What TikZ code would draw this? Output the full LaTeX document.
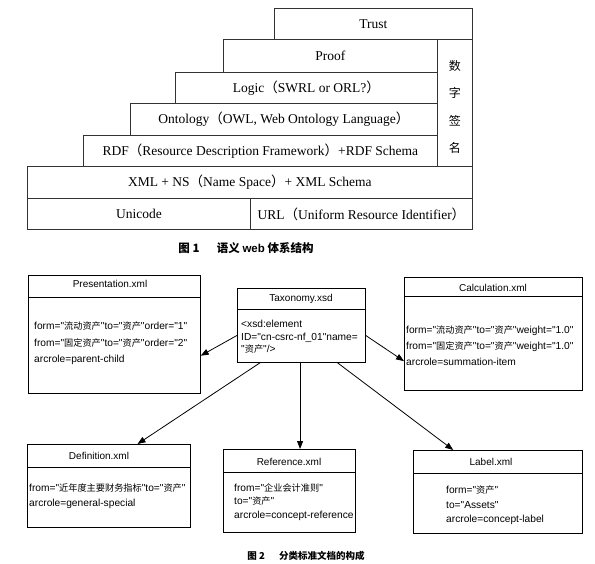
\documentclass[tikz,border=0pt]{standalone}
\usepackage{fontspec}
\setmainfont{Liberation Serif}
\newfontfamily\arial{Liberation Sans}
\newfontfamily\cjk{Noto Sans CJK SC}
\newfontfamily\cjks[Scale=0.9]{Noto Sans CJK SC}
\newcommand\zh[1]{{\cjks #1}}
\newcommand\fp[1]{{\cjk #1}}
\usetikzlibrary{arrows.meta,calc}
\begin{document}
\begin{tikzpicture}[x=1pt,y=-1pt,
  layer/.style={draw=black!80, line width=0.8pt, anchor=north west, inner sep=0pt,
    font=\fontsize{13.5}{16}\selectfont},
  box/.style={draw=black, line width=0.7pt, anchor=north west, inner sep=0pt},
  hdr/.style={font=\arial\fontsize{10}{12}\selectfont, inner sep=0pt},
  body/.style={font=\arial\fontsize{10.2}{12}\selectfont, anchor=base west, inner sep=0pt},
  captxt/.style={inner sep=0pt},
  arr/.style={-{Triangle[length=8pt,width=6pt]}, line width=0.8pt}]
\useasboundingbox[fill=white] (0,0) rectangle (595,563);

% ---------- Figure 1 ----------
\node[layer, minimum width=198pt, minimum height=31pt] (trust) at (274,8) {Trust};
\node[layer, minimum width=214pt, minimum height=33pt] (proof) at (223,39) {Proof};
\node[layer, minimum width=262pt, minimum height=31pt] (logic) at (175,72) {Logic\fp{（}SWRL or ORL?\fp{）}};
\node[layer, minimum width=307pt, minimum height=32pt] (onto) at (130,103) {Ontology\fp{（}OWL, Web Ontology Language\fp{）}};
\node[layer, minimum width=354pt, minimum height=31pt] (rdf) at (83,135) {RDF\fp{（}Resource Description Framework\fp{）}+RDF Schema};
\node[layer, minimum width=35pt, minimum height=127pt] (sig) at (437,39) {};
\node[font=\cjk\fontsize{12}{27.5}\selectfont, align=center, inner sep=0pt] (sigt) at ($(sig.center)+(0,4)$) {数\\字\\签\\名};
\node[layer, minimum width=445pt, minimum height=32pt] (xml) at (27,166) {XML + NS\fp{（}Name Space\fp{）}+ XML Schema};
\node[layer, minimum width=223pt, minimum height=31pt] (uni) at (27,198) {Unicode};
\node[layer, minimum width=222pt, minimum height=31pt] (url) at (250,198) {URL\fp{（}Uniform Resource Identifier\fp{）}};
\node[captxt, font=\cjk\bfseries\fontsize{11.5}{13}\selectfont] (cap1) at (246,248) {图 1\hspace{1.5em}语义 {\arial\bfseries web} 体系结构};

% ---------- Figure 2 ----------
% Presentation
\node[box, minimum width=172pt, minimum height=118pt] (pres) at (28,275) {};
\draw[line width=0.7pt] (pres.west |- 0,297) -- (pres.east |- 0,297);
\node[hdr] (presh) at (110,284) {Presentation.xml};
\node[body] (pres1) at (34,329) {form="\zh{流动资产}"to="\zh{资产}"order="1"};
\node[body] (pres2) at (34,346) {from="\zh{固定资产}"to="\zh{资产}"order="2"};
\node[body] (pres3) at (34,362) {arcrole=parent-child};

% Taxonomy
\node[box, minimum width=128pt, minimum height=74pt] (tax) at (237,288) {};
\draw[line width=0.7pt] (tax.west |- 0,309) -- (tax.east |- 0,309);
\node[hdr] (taxh) at (301,299) {Taxonomy.xsd};
\node[body] (tax1) at (241,327) {<xsd:element};
\node[body] (tax2) at (241,340) {ID="cn-csrc-nf\_01"name=};
\node[body] (tax3) at (241,352) {"\zh{资产}"/>};

% Calculation
\node[box, minimum width=178pt, minimum height=113pt] (calc) at (404,277) {};
\draw[line width=0.7pt] (calc.west |- 0,296) -- (calc.east |- 0,296);
\node[hdr] (calch) at (493,288) {Calculation.xml};
\node[body] (calc1) at (406,333) {form="\zh{流动资产}"to="\zh{资产}"weight="1.0"};
\node[body] (calc2) at (406,349) {from="\zh{固定资产}"to="\zh{资产}"weight="1.0"};
\node[body] (calc3) at (406,365) {arcrole=summation-item};

% Definition
\node[box, minimum width=163pt, minimum height=83pt] (def) at (27,444) {};
\draw[line width=0.7pt] (def.west |- 0,467) -- (def.east |- 0,467);
\node[hdr] (defh) at (99,456) {Definition.xml};
\node[body] (def1) at (29,491) {from="\zh{近年度主要财务指标}"to="\zh{资产}"};
\node[body] (def2) at (29,506) {arcrole=general-special};

% Reference
\node[box, minimum width=132pt, minimum height=83pt] (ref) at (223,449) {};
\draw[line width=0.7pt] (ref.west |- 0,472) -- (ref.east |- 0,472);
\node[hdr] (refh) at (289,462) {Reference.xml};
\node[body] (ref1) at (234,491) {from="\zh{企业会计准则}"};
\node[body] (ref2) at (234,504) {to="\zh{资产}"};
\node[body] (ref3) at (234,518) {arcrole=concept-reference};

% Label
\node[box, minimum width=169pt, minimum height=83pt] (lab) at (413,450) {};
\draw[line width=0.7pt] (lab.west |- 0,473) -- (lab.east |- 0,473);
\node[hdr] (labh) at (491,462) {Label.xml};
\node[body] (lab1) at (446,493) {form="\zh{资产}"};
\node[body] (lab2) at (446,508) {to="Assets"};
\node[body] (lab3) at (446,522) {arcrole=concept-label};

% connectors
\draw[arr] ($(tax.north west)!0.635!(tax.south west)$) -- ($(pres.north east)!0.68!(pres.south east)$);
\draw[arr] ($(tax.north east)!0.635!(tax.south east)$) -- ($(calc.north west)!0.74!(calc.south west)$);
\draw[arr] ($(tax.south west)!0.18!(tax.south east)$) -- ($(def.north west)!0.675!(def.north east)$);
\coordinate (refin) at ($(tax.south west)!0.49!(tax.south east)$);
\draw[arr] (refin) -- (refin |- ref.north);
\draw[arr] ($(tax.south west)!0.78!(tax.south east)$) -- ($(lab.north west)!0.237!(lab.north east)$);

\node[captxt, font=\cjk\bfseries\fontsize{9.5}{11}\selectfont] (cap2) at (306,556) {图 2\hspace{1.5em}分类标准文档的构成};
\end{tikzpicture}
\end{document}
